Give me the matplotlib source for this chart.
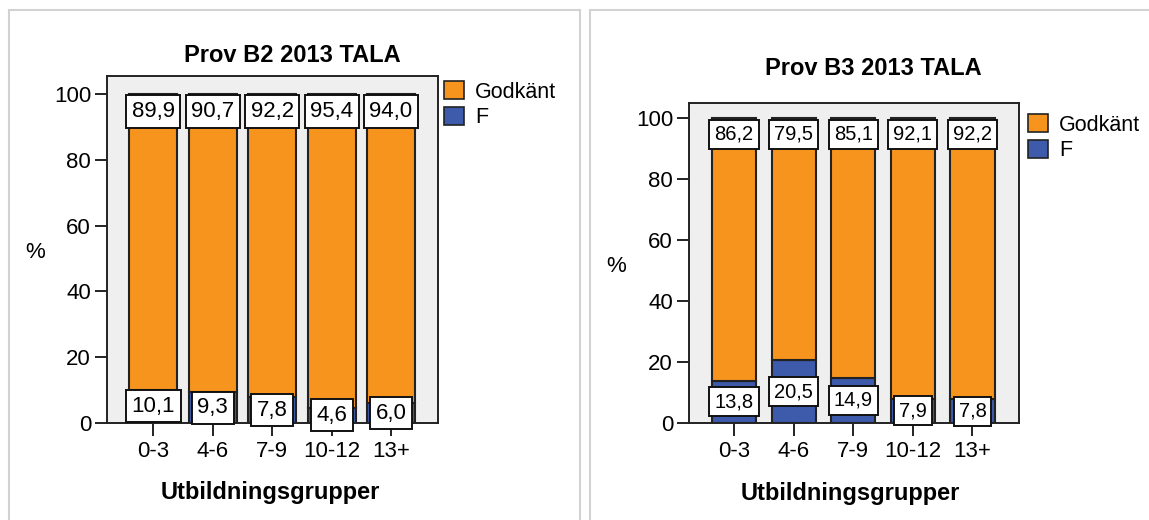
import numpy as np
import matplotlib
matplotlib.use("Agg")
import matplotlib.pyplot as plt
from matplotlib.patches import Rectangle, Patch

plt.rcParams['font.family'] = ['Liberation Sans', 'DejaVu Sans']

# Data
groups = ['0-3', '4-6', '7-9', '10-12', '13+']
b2_godkant = [89.9, 90.7, 92.2, 95.4, 94.0]
b2_f = [10.1, 9.3, 7.8, 4.6, 6.0]
b3_godkant = [86.2, 79.5, 85.1, 92.1, 92.2]
b3_f = [13.8, 20.5, 14.9, 7.9, 7.8]

ORANGE = '#F7941E'
BLUE = '#3D5AAB'
W, H = 1149, 520

fig = plt.figure(figsize=(W / 100, H / 100), dpi=100)
fig.patch.set_facecolor('white')

# panel frames (light gray)
fig.add_artist(Rectangle((9 / W, -0.1), (580 - 9) / W, 1.1 - 10 / H,
                         transform=fig.transFigure, fill=False,
                         edgecolor='#D2D2D2', lw=1.5))
fig.add_artist(Rectangle((590 / W, -0.1), 0.6, 1.1 - 10 / H,
                         transform=fig.transFigure, fill=False,
                         edgecolor='#D2D2D2', lw=1.5))


def draw_panel(rect, title, godkant, f, ymax, width, lblsize, pos):
    ax = fig.add_axes(rect)
    x = np.arange(len(groups))
    ax.set_facecolor('#EFEFEF')
    ax.bar(x, f, width=width, color=BLUE, edgecolor='#222222', lw=1.5, zorder=2)
    ax.bar(x, godkant, bottom=f, width=width, color=ORANGE,
           edgecolor='#222222', lw=1.5, zorder=2)
    box = dict(boxstyle='square,pad=0.25', facecolor='white',
               edgecolor='#111111', lw=1.4)
    for xi, g, fi in zip(x, godkant, f):
        ax.text(xi, fi + g - 5.3, f'{g:.1f}'.replace('.', ','), ha='center',
                va='center', fontsize=lblsize, bbox=box, zorder=4)
        ax.text(xi, fi / 2, f'{fi:.1f}'.replace('.', ','), ha='center',
                va='center', fontsize=lblsize, bbox=box, zorder=4, clip_on=False)

    ax.set_xlim(-pos['xl'], len(groups) - 1 + pos['xr'])
    ax.set_ylim(0, ymax)
    ax.set_xticks(x)
    ax.set_xticklabels(groups)
    ax.set_yticks([0, 20, 40, 60, 80, 100])
    ax.tick_params(axis='both', labelsize=16, length=9, width=1.4,
                   direction='out', color='#222222', pad=2.5)
    ax.tick_params(axis='x', pad=4)
    for s in ax.spines.values():
        s.set_linewidth(1.4)
        s.set_color('#222222')

    ax.set_ylabel('%', rotation=0, fontsize=16, va='center', ha='center')
    ax.yaxis.set_label_coords(*pos['ylab'])
    ax.set_xlabel('Utbildningsgrupper', fontsize=17, fontweight='bold', va='center')
    ax.xaxis.set_label_coords(*pos['xlab'])
    ax.text(pos['title'][0], pos['title'][1], title, transform=ax.transAxes,
            ha='center', va='center', fontsize=17, fontweight='bold')

    handles = [Patch(facecolor=ORANGE, edgecolor='#222222', lw=1.2, label='Godkänt'),
               Patch(facecolor=BLUE, edgecolor='#222222', lw=1.2, label='F')]
    ax.legend(handles=handles, loc='upper left', bbox_to_anchor=pos['leg'],
              frameon=False, fontsize=15.5, handlelength=0.95, handleheight=0.9,
              handletextpad=0.5, labelspacing=0.2, borderpad=0, borderaxespad=0)
    return ax


draw_panel([107 / W, 1 - 423 / H, 331 / W, 347 / H], 'Prov B2 2013 TALA',
           b2_godkant, b2_f, 105.5, 0.81, 16,
           dict(xl=0.78, xr=0.79, ylab=(-0.2175, 0.49), xlab=(0.492, -0.2017),
                title=(0.559, 1.06), leg=(1.018, 0.985)))

draw_panel([689 / W, 1 - 423 / H, 330 / W, 320 / H], 'Prov B3 2013 TALA',
           b3_godkant, b3_f, 104.9, 0.74, 14.5,
           dict(xl=0.755, xr=0.78, ylab=(-0.221, 0.4875), xlab=(0.49, -0.219),
                title=(0.558, 1.109), leg=(1.027, 0.965)))

fig.savefig('out.png', dpi=100)
